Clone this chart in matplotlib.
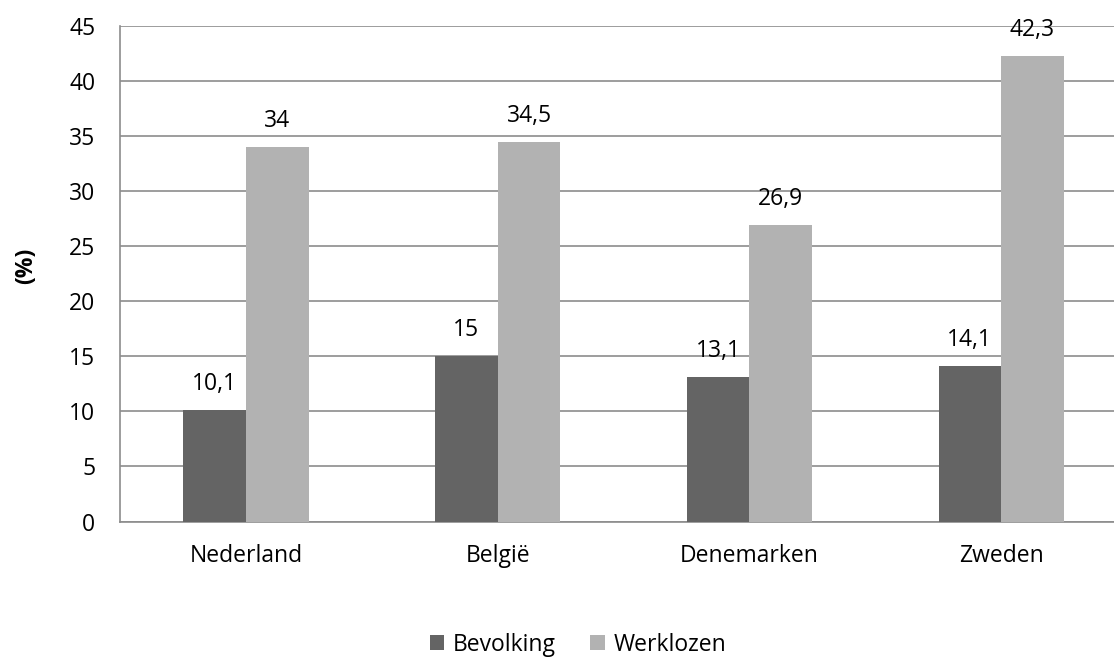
import matplotlib
matplotlib.use("Agg")
import matplotlib.pyplot as plt
import numpy as np

countries = ["Nederland", "België", "Denemarken", "Zweden"]
bevolking = [10.1, 15, 13.1, 14.1]
werklozen = [34, 34.5, 26.9, 42.3]
series_names = ["Bevolking", "Werklozen"]
y_ticks = [0, 5, 10, 15, 20, 25, 30, 35, 40, 45]

plt.rcParams['font.family'] = ['Open Sans', 'DejaVu Sans']
FS = 16.5

fig = plt.figure(figsize=(11.14, 6.62), dpi=100)
# plot area runs slightly past the right edge of the canvas
ax = fig.add_axes([0.1079, 0.2122, 0.9038, 0.9607 - 0.2122])

dark = "#646464"
light = "#b2b2b2"
grid_c = "#8c8c8c"

x = np.arange(len(countries))
w = 0.249
b1 = ax.bar(x - w / 2, bevolking, w, color=dark, label=series_names[0], zorder=3)
b2 = ax.bar(x + w / 2, werklozen, w, color=light, label=series_names[1], zorder=3)

def fmt(v):
    s = f"{v:g}"
    return s.replace(".", ",")

for bars, vals in ((b1, bevolking), (b2, werklozen)):
    for r, v in zip(bars, vals):
        ax.annotate(fmt(v), (r.get_x() + r.get_width() / 2, v),
                    xytext=(0, 10), textcoords="offset points",
                    ha="center", va="bottom", fontsize=FS, color="black")

ax.set_xlim(-0.5, len(countries) - 0.5)
ax.set_ylim(0, 45)
ax.set_yticks(y_ticks)
ax.set_yticklabels([str(t) for t in y_ticks], fontsize=FS)
ax.set_xticks(x)
ax.set_xticklabels(countries, fontsize=FS)
ax.tick_params(axis="y", length=0, pad=18)
ax.tick_params(axis="x", length=0, pad=16)

ax.yaxis.grid(True, color=grid_c, linewidth=1.2, zorder=0)
ax.set_axisbelow(True)
for side in ("top", "right"):
    ax.spines[side].set_visible(False)
for side in ("left", "bottom"):
    ax.spines[side].set_color(grid_c)
    ax.spines[side].set_linewidth(1.2)

fig.text(0.0235, 0.599, "(%)", rotation=90, fontsize=FS, fontweight="bold",
         ha="center", va="center")

fig.legend(handles=[b1, b2], labels=series_names, loc="center",
           bbox_to_anchor=(0.519, 0.026), ncol=2, frameon=False, fontsize=FS,
           handlelength=0.62, handleheight=0.62, handletextpad=0.4,
           columnspacing=1.5, borderpad=0.1)

fig.savefig("out.png", dpi=100)
